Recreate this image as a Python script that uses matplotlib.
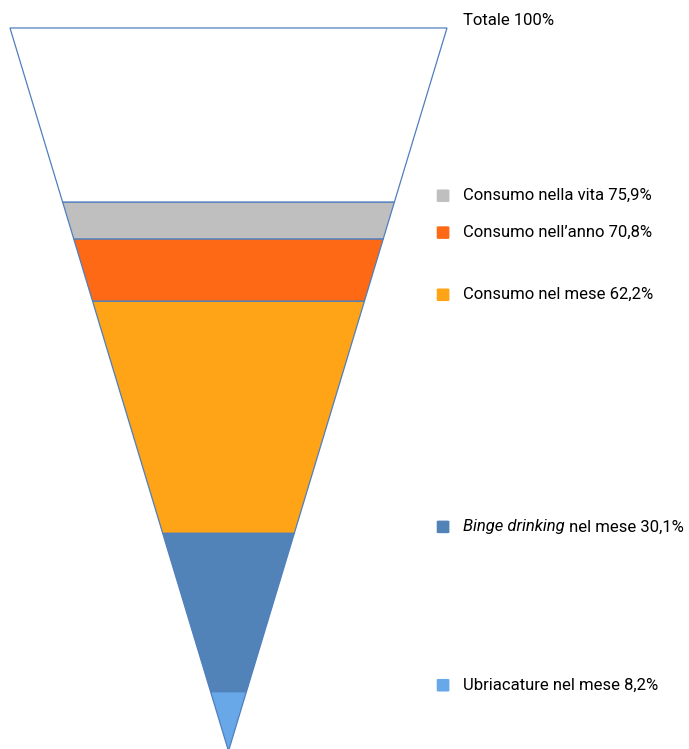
import matplotlib
matplotlib.use("Agg")
import matplotlib.pyplot as plt
from matplotlib.patches import Polygon, FancyBboxPatch

plt.rcParams['font.family'] = ['Roboto', 'DejaVu Sans']

# funnel levels (percent of total)
levels = [100, 75.9, 70.8, 62.2, 30.1, 8.2, 0]
labels = ["Consumo nella vita 75,9%", "Consumo nell\u2019anno 70,8%",
          "Consumo nel mese 62,2%", None, "Ubriacature nel mese 8,2%"]
colors = ['#ffffff', '#bfbfbf', '#fd6914', '#fea416', '#5283b8', '#69a8e8']
edge = '#4f7fbd'

fig = plt.figure(figsize=(6.89, 7.49), dpi=100)
ax = fig.add_axes([0, 0, 1, 1])
ax.set_xlim(-1.0458, 2.1076)
ax.set_ylim(0.28, 103.87)
ax.axis('off')

# half width is proportional to the level (triangle funnel)
for i in range(len(levels) - 1):
    top, bot = levels[i], levels[i + 1]
    w1, w2 = top / 100, bot / 100
    poly = Polygon([(-w1, top), (w1, top), (w2, bot), (-w2, bot)],
                   closed=True, facecolor=colors[i], edgecolor=edge, lw=0.9)
    ax.add_patch(poly)

tx = 1.073
mx = 0.982
fs = 12
ax.text(tx, 100 + 1.1, "Totale 100%", fontsize=fs, va='center', ha='left')

for i in range(1, len(levels) - 1):
    y = levels[i] + 0.9
    sq = FancyBboxPatch((mx - 0.029, y - 0.87), 0.058, 1.74,
                        boxstyle="round,pad=0,rounding_size=0.012",
                        facecolor=colors[i], edgecolor='none',
                        mutation_aspect=7)
    ax.add_patch(sq)
    lab = labels[i - 1]
    if lab is None:
        t1 = ax.text(tx, y, "Binge drinking", fontsize=fs, va='center',
                     ha='left', style='italic')
        ax.annotate(" nel mese 30,1%", xy=(1, 0), xycoords=t1,
                    fontsize=fs, va='bottom', ha='left')
    else:
        ax.text(tx, y, lab, fontsize=fs, va='center', ha='left')

fig.savefig("out.png", dpi=100)
